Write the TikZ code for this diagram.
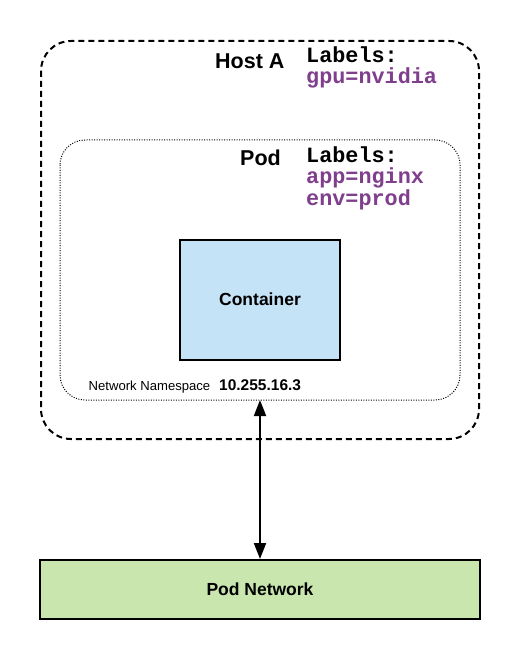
\documentclass[tikz,border=0pt]{standalone}
\usepackage{fontspec}
\setmainfont{Liberation Sans}
\newfontfamily\monofont{Liberation Mono}
\usetikzlibrary{arrows.meta}
\definecolor{lblpurple}{HTML}{7F3F8C}
\definecolor{contblue}{HTML}{C4E3F6}
\definecolor{netgreen}{HTML}{C8E6AE}
\tikzset{
  hostbox/.style={draw, line width=2pt, dash pattern=on 6pt off 4pt, rounded corners=30pt},
  podbox/.style={draw, line width=1pt, dash pattern=on 1pt off 1.5pt, rounded corners=25pt},
  solidbox/.style={draw, line width=2pt, inner sep=0pt},
  titletext/.style={font=\fontsize{21.5}{21.5}\selectfont\bfseries, anchor=base west, inner sep=0pt},
  monotext/.style={font=\monofont\fontsize{21.8}{21}\selectfont\bfseries, anchor=base west, inner sep=0pt, align=left},
  boxtext/.style={font=\fontsize{17.5}{17.5}\selectfont\bfseries},
}
\begin{document}
\begin{tikzpicture}[x=1pt,y=-1pt]
\useasboundingbox (0,0) rectangle (520,660);
% host
\draw[hostbox] (41,41) rectangle (479,439);
% pod
\draw[podbox] (60,140) rectangle (460,400);
\coordinate (podbottom) at (260,400);
% container
\node[solidbox, fill=contblue, minimum width=160pt, minimum height=120pt] (container) at (260,299.5) {};
\node[boxtext] (containerlbl) at (container.center) {Container};
% pod network
\node[solidbox, fill=netgreen, minimum width=440pt, minimum height=59pt] (podnet) at (260,589.5) {};
\node[boxtext] (podnetlbl) at (podnet.center) {Pod Network};
% labels
\node[titletext] (hostlbl) at (215,69) {Host A};
\node[monotext] (hostlabels) at (306,63) {Labels:};
\node[monotext, text=lblpurple] (hostgpu) at (306,84) {gpu=nvidia};
\node[titletext] (podlbl) at (240,166) {Pod};
\node[monotext] (podlabels) at (306,162.5) {Labels:};
\node[monotext, text=lblpurple] (podapp) at (306,184) {app=nginx};
\node[monotext, text=lblpurple] (podenv) at (306,205) {env=prod};
\node[font=\fontsize{13.1}{13.1}\selectfont, anchor=base west, inner sep=0pt] (nsl) at (88.5,390.5) {Network Namespace};
\node[font=\fontsize{15.5}{15.5}\selectfont\bfseries, anchor=base west, inner sep=0pt] (ip) at (219,390.5) {10.255.16.3};
% arrow
\draw[line width=2pt, {Triangle[length=16pt,width=12pt]}-{Triangle[length=16pt,width=12pt]}] (podbottom) -- (podnet.north);
\end{tikzpicture}
\end{document}
